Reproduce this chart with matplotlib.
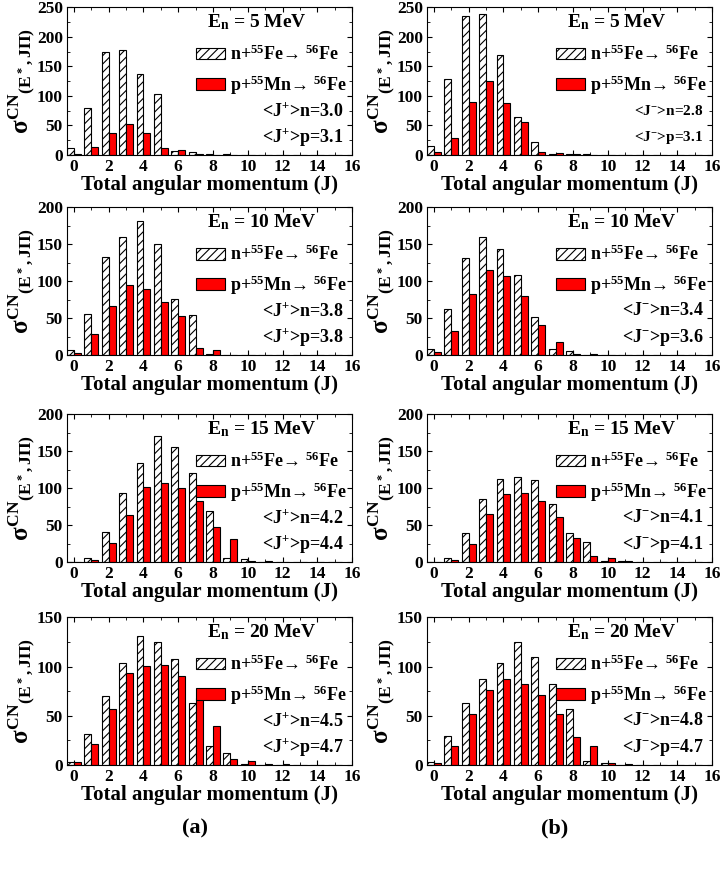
import numpy as np
import matplotlib
matplotlib.use('Agg')
import matplotlib.pyplot as plt
import matplotlib.patches as patches
from matplotlib.ticker import MultipleLocator

plt.rcParams['font.family'] = ['Liberation Serif', 'DejaVu Serif']
plt.rcParams['font.weight'] = 'bold'
plt.rcParams['mathtext.fontset'] = 'custom'
plt.rcParams['mathtext.rm'] = 'Liberation Serif:bold'
plt.rcParams['mathtext.it'] = 'Liberation Serif:bold'
plt.rcParams['mathtext.bf'] = 'Liberation Serif:bold'
plt.rcParams['hatch.linewidth'] = 0.8

# Total angular momentum values
J = np.arange(0, 16)

# Positive parity (a), E = 5, 10, 15, 20 MeV
n_pos_5 = [11, 79, 175, 178, 137, 104, 6, 4.5, 1, 1, 0.5, 0, 0, 0, 0, 0]
p_pos_5 = [1, 13, 36.5, 52, 36.5, 11, 8, 2, 0.5, 0.3, 0, 0, 0, 0, 0, 0]
n_pos_10 = [6.8, 56, 133, 160, 181, 150, 76, 54, 1, 0.5, 0, 0, 0, 0, 0, 0]
p_pos_10 = [2.7, 29, 66, 95, 90, 72, 53, 10, 7, 0.5, 0, 0, 0, 0, 0, 0]
n_pos_15 = [0, 5, 41, 94, 134, 170, 156, 120, 69, 6, 3.6, 0.5, 0, 0, 0, 0]
p_pos_15 = [0, 3, 26, 64, 101, 106.5, 100.5, 83, 48, 31, 1.8, 1.3, 0, 0, 0, 0]
n_pos_20 = [3.4, 31, 70.4, 104, 131.5, 125, 108, 63.4, 19, 12, 0.7, 0.5, 0, 0, 0, 0]
p_pos_20 = [2.7, 21, 57, 93, 101, 102, 90, 68, 39.4, 6, 3.7, 0.7, 0.7, 0, 0, 0]

# Negative parity (b)
n_neg_5 = [16, 129, 236, 239, 169, 65, 22.5, 1, 1, 1, 0.5, 0, 0, 0, 0, 0]
p_neg_5 = [5.6, 29, 90, 126, 88, 55, 4.5, 3, 1, 0.3, 0, 0, 0, 0, 0, 0]
n_neg_10 = [7.7, 62, 131, 160, 143, 108, 52, 7.7, 5, 0.5, 0, 0, 0, 0, 0, 0]
p_neg_10 = [4, 33, 82, 115, 107, 80, 40, 17, 1, 1, 0, 0, 0, 0, 0, 0]
n_neg_15 = [0, 5, 39.5, 85, 113, 114.6, 111, 79, 39, 26.5, 1.3, 1, 0, 0, 0, 0]
p_neg_15 = [0, 3, 25, 65, 92, 94, 82, 61.5, 33, 7.6, 5, 1, 0, 0, 0, 0]
n_neg_20 = [3, 29, 63, 87, 103.5, 125, 109.5, 82, 56.6, 4, 2.4, 0.5, 0, 0, 0, 0]
p_neg_20 = [2.4, 19, 51.6, 76, 87, 82, 71.5, 52, 28, 19, 1.7, 0.7, 0, 0, 0, 0]

energies = [5, 10, 15, 20]
ymax = [250, 200, 200, 150]
mean_pos = [('3.0', '3.1'), ('3.8', '3.8'), ('4.2', '4.4'), ('4.5', '4.7')]
mean_neg = [('2.8', '3.1'), ('3.4', '3.6'), ('4.1', '4.1'), ('4.8', '4.7')]

cols = [
    ([n_pos_5, n_pos_10, n_pos_15, n_pos_20], [p_pos_5, p_pos_10, p_pos_15, p_pos_20], mean_pos, '+'),
    ([n_neg_5, n_neg_10, n_neg_15, n_neg_20], [p_neg_5, p_neg_10, p_neg_15, p_neg_20], mean_neg, '-'),
]

fig = plt.figure(figsize=(7.2, 8.74), dpi=100)

lefts = [0.093, 0.593]
bottoms = [0.8227, 0.5938, 0.357, 0.1247]
w, h = 0.396, 0.169
w_bar = 0.4

for c, (n_list, p_list, means, sign) in enumerate(cols):
    for r in range(4):
        ax = fig.add_axes([lefts[c], bottoms[r], w, h])
        ax.bar(J - w_bar / 2, n_list[r], width=w_bar, facecolor='white', edgecolor='black',
               hatch='////', linewidth=0.8)
        ax.bar(J + w_bar / 2, p_list[r], width=w_bar, facecolor='#ff0000', edgecolor='black',
               linewidth=0.8)
        ax.set_xlim(-0.4, 16)
        ax.set_ylim(0, ymax[r])
        ax.xaxis.set_major_locator(MultipleLocator(2))
        ax.xaxis.set_minor_locator(MultipleLocator(1))
        ax.yaxis.set_major_locator(MultipleLocator(50))
        ax.yaxis.set_minor_locator(MultipleLocator(25))
        ax.tick_params(which='both', direction='in', top=True, right=True, labelsize=12.5)
        ax.tick_params(which='major', length=3.5, pad=3)
        ax.tick_params(which='minor', length=2)
        for lab in ax.get_xticklabels() + ax.get_yticklabels():
            lab.set_fontweight('bold')
        ax.set_xlabel('Total angular momentum (J)', fontsize=15, fontweight='bold', labelpad=0)
        ax.set_ylabel(r'$\sigma^{\rm CN}$' + r'$_{\rm (E^*,J\Pi)}$', fontsize=18, labelpad=0)

        ax.text(0.49, 0.90, r'E$_{\rm n}$ = %d MeV' % energies[r], transform=ax.transAxes,
                ha='left', va='center', fontsize=14, fontweight='bold')

        h1 = patches.Patch(facecolor='white', edgecolor='black', hatch='////', linewidth=0.8)
        h2 = patches.Patch(facecolor='#ff0000', edgecolor='black', linewidth=0.8)
        leg = ax.legend([h1, h2], [r'n+$^{55}$Fe→ $^{56}$Fe',
                                   r'p+$^{55}$Mn→ $^{56}$Fe'],
                        loc='upper right', bbox_to_anchor=(1.02, 0.82), frameon=False,
                        fontsize=13, handlelength=1.6, handleheight=0.6, handletextpad=0.3,
                        labelspacing=0.5, borderaxespad=0.2)
        fs = 11 if (c == 1 and r == 0) else 13
        sup = '+' if sign == '+' else '-'
        ax.text(0.97, 0.30, r'<J$^{%s}$>n=%s' % (sup, means[r][0]), transform=ax.transAxes,
                ha='right', va='center', fontsize=fs, fontweight='bold')
        ax.text(0.97, 0.12, r'<J$^{%s}$>p=%s' % (sup, means[r][1]), transform=ax.transAxes,
                ha='right', va='center', fontsize=fs, fontweight='bold')

fig.text(195 / 720, 1 - 828 / 874, '(a)', ha='center', va='center', fontsize=16, fontweight='bold')
fig.text(555 / 720, 1 - 828 / 874, '(b)', ha='center', va='center', fontsize=16, fontweight='bold')

fig.savefig('out.png', dpi=100)
